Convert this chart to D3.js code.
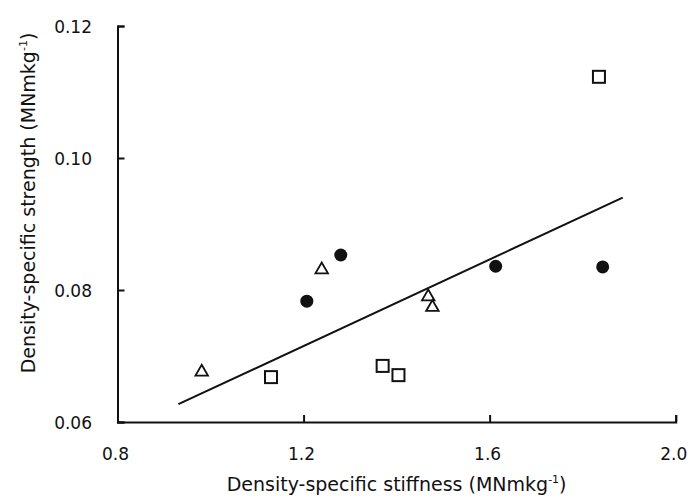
<!DOCTYPE html>
<html>
<head>
<meta charset="utf-8">
<script src="https://cdn.jsdelivr.net/npm/d3@7"></script>
<style>
    body { margin: 0; background: #ffffff; }
</style>
</head>
<body>
<div id="chart"></div>
<script>
// values
var circleX = [1.207, 1.280, 1.613, 1.843];
var circleY = [0.0783, 0.0853, 0.0836, 0.0835];

var triangleX = [0.981, 1.239, 1.468, 1.477];
var triangleY = [0.0678, 0.0833, 0.0792, 0.0776];

var squareX = [1.130, 1.370, 1.404, 1.835];
var squareY = [0.0668, 0.0685, 0.0671, 0.1123];

// regression line end points
var fitX = [0.931, 1.886];
var fitY = [0.0627, 0.0940];

var xTicks = [0.8, 1.2, 1.6, 2.0];
var yTicks = [0.06, 0.08, 0.10, 0.12];

var width = 688, height = 499;
var grid = {leftEdge: 117.5, rightEdge: 675.7, top: 26, bottom: 422};
var font = '"DejaVu Sans", Verdana, sans-serif';

var svg = d3.select('#chart').append('svg')
        .attr('width', width)
        .attr('height', height);

var x = d3.scaleLinear().domain([0.8, 2.0]).range([grid.leftEdge, grid.rightEdge]);
var y = d3.scaleLinear().domain([0.06, 0.12]).range([grid.bottom, grid.top]);

var pairs = function(xs, ys){
    return xs.map(function(v, i){ return [v, ys[i]]; });
};

// axes, ticks pointing inward
var xAxis = svg.append('g')
        .attr('transform', 'translate(0,' + grid.bottom + ')')
        .call(d3.axisTop(x).tickValues(xTicks).tickSize(7).tickFormat(''));

var yAxis = svg.append('g')
        .attr('transform', 'translate(' + grid.leftEdge + ',0)')
        .call(d3.axisRight(y).tickValues(yTicks).tickSize(7).tickFormat(''));

[xAxis, yAxis].forEach(function(a){
    a.select('.domain').attr('stroke', '#111').attr('stroke-width', 2);
    a.selectAll('.tick line').attr('stroke', '#111').attr('stroke-width', 2);
});

// tick labels
svg.append('g').selectAll('text')
        .data(xTicks)
        .enter().append('text')
        .attr('x', function(d){ return x(d) - 2; })
        .attr('y', 460)
        .attr('text-anchor', 'middle')
        .style('font', '17px ' + font)
        .style('fill', '#111')
        .text(function(d){ return d.toFixed(1); });

svg.append('g').selectAll('text')
        .data(yTicks)
        .enter().append('text')
        .attr('x', 92)
        .attr('y', function(d){ return y(d) + 6.5; })
        .attr('text-anchor', 'end')
        .style('font', '17px ' + font)
        .style('fill', '#111')
        .text(function(d){ return d.toFixed(2); });

// axis titles
var xLabel = svg.append('text')
        .attr('x', (grid.leftEdge + grid.rightEdge) / 2)
        .attr('y', 491)
        .attr('text-anchor', 'middle')
        .style('font', '19px ' + font)
        .style('fill', '#111');
xLabel.append('tspan').text('Density-specific stiffness (MNmkg');
xLabel.append('tspan').attr('dy', -8).style('font-size', '11px').text('-1');
xLabel.append('tspan').attr('dy', 8).text(')');

var yLabel = svg.append('text')
        .attr('text-anchor', 'middle')
        .attr('transform', 'translate(35,203)rotate(-90)')
        .style('font', '19px ' + font)
        .style('fill', '#111');
yLabel.append('tspan').text('Density-specific strength (MNmkg');
yLabel.append('tspan').attr('dy', -8).style('font-size', '11px').text('-1');
yLabel.append('tspan').attr('dy', 8).text(')');

// regression line
svg.append('path')
        .datum(pairs(fitX, fitY))
        .attr('d', d3.line().x(function(d){ return x(d[0]); }).y(function(d){ return y(d[1]); }))
        .attr('fill', 'none')
        .attr('stroke', '#111')
        .attr('stroke-width', 2);

// markers
svg.append('g').selectAll('circle')
        .data(pairs(circleX, circleY))
        .enter().append('circle')
        .attr('cx', function(d){ return x(d[0]); })
        .attr('cy', function(d){ return y(d[1]); })
        .attr('r', 6.5)
        .attr('fill', '#111');

svg.append('g').selectAll('rect')
        .data(pairs(squareX, squareY))
        .enter().append('rect')
        .attr('x', function(d){ return x(d[0]) - 6; })
        .attr('y', function(d){ return y(d[1]) - 6; })
        .attr('width', 12)
        .attr('height', 12)
        .attr('fill', '#fff')
        .attr('stroke', '#111')
        .attr('stroke-width', 2);

var tri = d3.symbol().type(d3.symbolTriangle).size(68);
svg.append('g').selectAll('path')
        .data(pairs(triangleX, triangleY))
        .enter().append('path')
        .attr('d', tri)
        .attr('transform', function(d){ return 'translate(' + x(d[0]) + ',' + (y(d[1]) + 1.5) + ')'; })
        .attr('fill', '#fff')
        .attr('stroke', '#111')
        .attr('stroke-width', 1.8);
</script>
</body>
</html>
